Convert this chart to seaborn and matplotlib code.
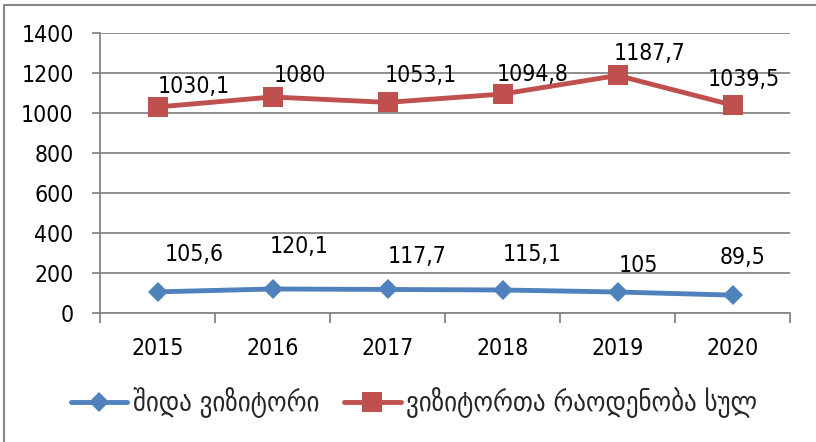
import pandas as pd
import seaborn as sns
import matplotlib.pyplot as plt
from matplotlib.lines import Line2D

# data
years = [2015, 2016, 2017, 2018, 2019, 2020]
domestic = [105.6, 120.1, 117.7, 115.1, 105, 89.5]
total = [1030.1, 1080, 1053.1, 1094.8, 1187.7, 1039.5]
domestic_labels = ["105,6", "120,1", "117,7", "115,1", "105", "89,5"]
total_labels = ["1030,1", "1080", "1053,1", "1094,8", "1187,7", "1039,5"]
series_names = ["შიდა ვიზიტორი", "ვიზიტორთა რაოდენობა სულ"]

# label offsets in pixels (labels were moved by hand in the original)
domestic_offsets = [(37, 37), (27, 42), (30, 33), (30, 35), (21, 27), (10, 38)]
total_offsets = [(36, 20), (27, 21), (33, 27), (30, 20), (32, 22), (11, 26)]

blue = "#4F81BD"
red = "#C0504D"
gray = "#868686"
fs = 16.5

df = pd.DataFrame({
    "year": years * 2,
    "value": domestic + total,
    "series": [series_names[0]] * 6 + [series_names[1]] * 6,
})

sns.set_theme(style="white")
plt.rcParams["font.family"] = ["DejaVu Sans"]
plt.rcParams["font.stretch"] = "condensed"

fig = plt.figure(figsize=(8.16, 4.42), dpi=100)
ax = fig.add_axes([100 / 816, 129 / 442, 690 / 816, 280 / 442])

sns.lineplot(data=df, x="year", y="value", hue="series", style="series",
             palette=[blue, red], markers=["D", "s"], dashes=False,
             linewidth=3.5, markeredgewidth=0, ax=ax, legend=False)
for line, ms in zip(ax.lines, [10.5, 14]):
    line.set_markersize(ms)

for x, y, t, (dx, dy) in zip(years, domestic, domestic_labels, domestic_offsets):
    ax.annotate(t, (x, y), xytext=(dx, dy), textcoords="offset pixels",
                ha="center", va="center", fontsize=fs, color="black")
for x, y, t, (dx, dy) in zip(years, total, total_labels, total_offsets):
    ax.annotate(t, (x, y), xytext=(dx, dy), textcoords="offset pixels",
                ha="center", va="center", fontsize=fs, color="black")

ax.set_xlim(2014.5, 2020.5)
ax.set_ylim(0, 1400)
ax.set_yticks(range(0, 1401, 200))
ax.set_xticks(years)
ax.set_xticks([y - 0.5 for y in years] + [2020.5], minor=True)
ax.set_xlabel("")
ax.set_ylabel("")

ax.grid(axis="y", color=gray, linewidth=1.3)
ax.grid(axis="x", visible=False)
ax.set_axisbelow(True)
for s in ["top", "right"]:
    ax.spines[s].set_visible(False)
for s in ["left", "bottom"]:
    ax.spines[s].set_color(gray)
    ax.spines[s].set_linewidth(1.3)

ax.tick_params(axis="x", which="major", length=0, pad=17, labelsize=fs, labelcolor="black")
ax.tick_params(axis="x", which="minor", length=7, width=1.3, color=gray, direction="out", bottom=True)
ax.tick_params(axis="y", length=6, width=1.3, color=gray, direction="out", left=True,
               pad=13, labelsize=fs, labelcolor="black")

handles = [Line2D([], [], color=blue, marker="D", markersize=10.5, lw=3.5, markeredgewidth=0),
           Line2D([], [], color=red, marker="s", markersize=14, lw=3.5, markeredgewidth=0)]
fig.legend(handles, series_names, loc="center", bbox_to_anchor=(414 / 816, 1 - 403 / 442),
           ncol=2, frameon=False, prop={"family": "DejaVu Sans", "stretch": "condensed", "size": 20},
           handlelength=2.9 * 14 / 20, handletextpad=0.2, columnspacing=0.9)

# outer frame: only top and left edges show in the original
fig.add_artist(Line2D([4 / 816, 4 / 816, 1], [0, 1 - 5 / 442, 1 - 5 / 442],
                      transform=fig.transFigure, color=gray, linewidth=1.5))

fig.savefig("out.png", dpi=100)
